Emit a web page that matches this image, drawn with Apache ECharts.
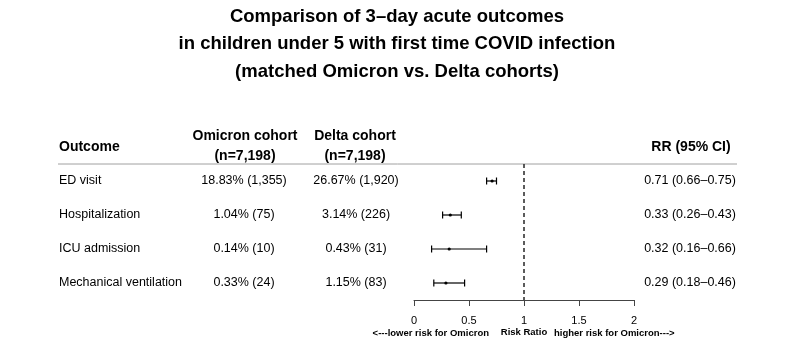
<!DOCTYPE html>
<html>
<head>
<meta charset="utf-8">
<script src="https://cdn.jsdelivr.net/npm/echarts@6/dist/echarts.min.js"></script>
<style>html,body{margin:0;padding:0;background:#fff}#c{width:800px;height:355px}</style>
</head>
<body>
<div id="c"></div>
<script>
const titleLines = ['Comparison of 3\u2013day acute outcomes', 'in children under 5 with first time COVID infection', '(matched Omicron vs. Delta cohorts)'];
const outcomes = ['ED visit', 'Hospitalization', 'ICU admission', 'Mechanical ventilation'];
const omicronVals = ['18.83% (1,355)', '1.04% (75)', '0.14% (10)', '0.33% (24)'];
const deltaVals = ['26.67% (1,920)', '3.14% (226)', '0.43% (31)', '1.15% (83)'];
const rr = [0.71, 0.33, 0.32, 0.29];
const rrLow = [0.66, 0.26, 0.16, 0.18];
const rrHigh = [0.75, 0.43, 0.66, 0.46];
const xTicks = [0, 0.5, 1, 1.5, 2];
const headers = { outcome: 'Outcome', omicron: ['Omicron cohort', '(n=7,198)'], delta: ['Delta cohort', '(n=7,198)'], rr: 'RR (95% CI)' };
const axisNotes = ['<---lower risk for Omicron', 'Risk Ratio', 'higher risk for Omicron--->'];

const FONT = '"Liberation Sans", Arial, Helvetica, sans-serif';
const rrLabels = rr.map((v, i) => v.toFixed(2) + ' (' + rrLow[i].toFixed(2) + '\u2013' + rrHigh[i].toFixed(2) + ')');

const chart = echarts.init(document.getElementById('c'), null, { renderer: 'canvas' });

function txt(text, x, y, align, size, weight) {
  return { type: 'text', x: x, y: y, silent: true,
    style: { text: text, textAlign: align, textVerticalAlign: 'middle', font: (weight || 'normal') + ' ' + size + 'px ' + FONT, fill: '#000' } };
}

const graphics = [];
titleLines.forEach((t, i) => graphics.push(txt(t, 397, [17, 44, 72][i], 'center', 18.5, 'bold')));
graphics.push(txt(headers.outcome, 59, 147, 'left', 14, 'bold'));
graphics.push(txt(headers.omicron[0], 245, 136, 'center', 14, 'bold'));
graphics.push(txt(headers.omicron[1], 245, 156, 'center', 14, 'bold'));
graphics.push(txt(headers.delta[0], 355, 136, 'center', 14, 'bold'));
graphics.push(txt(headers.delta[1], 355, 156, 'center', 14, 'bold'));
graphics.push(txt(headers.rr, 691, 147, 'center', 14, 'bold'));
graphics.push({ type: 'line', silent: true, shape: { x1: 58, y1: 164, x2: 737, y2: 164 }, style: { stroke: '#a0a0a0', lineWidth: 1 } });
graphics.push(txt(axisNotes[0], 489, 333, 'right', 9.5, 'bold'));
graphics.push(txt(axisNotes[2], 554, 333, 'left', 9.5, 'bold'));

const option = {
  animation: false,
  backgroundColor: '#fff',
  graphic: graphics,
  grid: { left: 414, width: 220, top: 164, height: 136, containLabel: false },
  xAxis: {
    type: 'value', min: 0, max: 2, interval: 0.5,
    splitLine: { show: false },
    axisLine: { show: true, lineStyle: { color: '#444', width: 1 } },
    axisTick: { show: true, length: 6, lineStyle: { color: '#444', width: 1 } },
    axisLabel: { color: '#000', fontSize: 11, fontFamily: FONT, margin: 15, formatter: v => String(v) },
    name: axisNotes[1], nameLocation: 'middle', nameGap: 27,
    nameTextStyle: { color: '#000', fontSize: 9.5, fontWeight: 'bold', fontFamily: FONT }
  },
  yAxis: {
    type: 'category', data: outcomes, inverse: true,
    axisLine: { show: false }, axisTick: { show: false }, axisLabel: { show: false }, splitLine: { show: false }
  },
  series: [
    {
      type: 'custom', name: 'table', clip: false,
      data: outcomes.map((o, i) => [0, i]),
      renderItem: function (params, api) {
        const i = api.value(1);
        const y = api.coord([0, i])[1];
        return { type: 'group', children: [
          txt(outcomes[i], 59, y, 'left', 12.5),
          txt(omicronVals[i], 244, y, 'center', 12.5),
          txt(deltaVals[i], 356, y, 'center', 12.5),
          txt(rrLabels[i], 690, y, 'center', 12.5)
        ] };
      }
    },
    {
      type: 'custom', name: 'RR', clip: false,
      data: rr.map((v, i) => [v, i, rrLow[i], rrHigh[i]]),
      renderItem: function (params, api) {
        const p = api.coord([api.value(0), api.value(1)]);
        const lo = api.coord([api.value(2), api.value(1)]);
        const hi = api.coord([api.value(3), api.value(1)]);
        const st = { stroke: '#000', lineWidth: 1.2 };
        return { type: 'group', children: [
          { type: 'line', shape: { x1: lo[0], y1: p[1], x2: hi[0], y2: p[1] }, style: st },
          { type: 'line', shape: { x1: lo[0], y1: p[1] - 3.5, x2: lo[0], y2: p[1] + 3.5 }, style: st },
          { type: 'line', shape: { x1: hi[0], y1: p[1] - 3.5, x2: hi[0], y2: p[1] + 3.5 }, style: st },
          { type: 'circle', shape: { cx: p[0], cy: p[1], r: 1.6 }, style: { fill: '#000' } }
        ] };
      },
      markLine: {
        silent: true, symbol: ['none', 'none'], label: { show: false },
        lineStyle: { color: '#333', width: 1.6, type: [4, 3] },
        data: [{ xAxis: 1 }]
      }
    }
  ]
};
chart.setOption(option);
</script>
</body>
</html>
